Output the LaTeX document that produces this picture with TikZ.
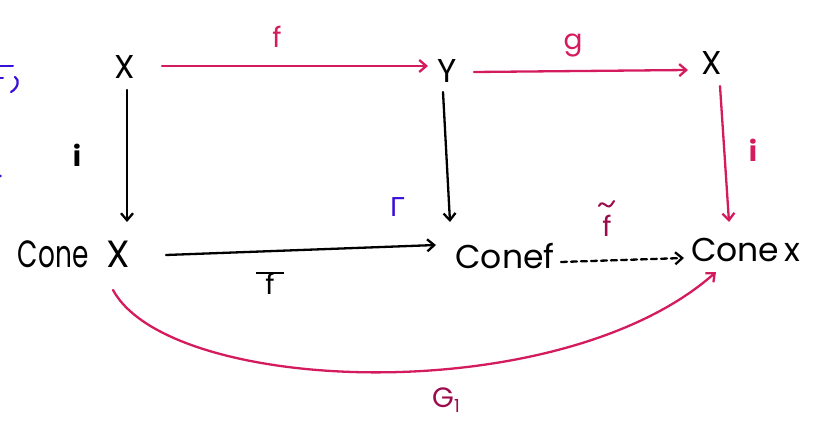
\documentclass[tikz,border=0pt]{standalone}
\usepackage{fontspec}
\usepackage{graphicx}
\setmainfont{Poppins}
\newfontfamily\gk{DejaVu Sans}
\usetikzlibrary{arrows.meta}
\definecolor{crim}{HTML}{D41B5E}
\definecolor{plum}{HTML}{9A0B4C}
\definecolor{blu}{HTML}{3A10D8}
\begin{document}
\begin{tikzpicture}[x=1pt,y=-1pt,
  obj/.style={inner sep=1pt,font=\fontsize{33}{35}\selectfont\mdseries},
  lab/.style={inner sep=1pt,font=\fontsize{28}{30}\selectfont},
  arr/.style={-{Straight Barb[length=7pt,width=12pt]},line width=2.3pt,line cap=round},
]
\useasboundingbox (0,0) rectangle (817,422);
% objects
\node[obj] (X1) at (125,67) {X};
\node[obj] (Y) at (447,71) {Y};
\node[obj] (X2) at (712,63) {X};
\node[obj,anchor=base] (CX) at (74,268) {\scalebox{0.8}[1.15]{Cone}\hspace{18pt}\scalebox{1.15}{X}};
\node[obj] (Cf) at (505,256) {Conef};
\node[obj] (Cx) at (746,250) {Cone\,x};
% anchors
\coordinate (a1) at (162,66); \coordinate (b1) at (428,66);
\coordinate (a2) at (474,72); \coordinate (b2) at (688,70);
\coordinate (a3) at (127,90); \coordinate (b3) at (127,222);
\coordinate (a4) at (443,92); \coordinate (b4) at (450,222);
\coordinate (a5) at (720,86); \coordinate (b5) at (729,222);
\coordinate (a6) at (166,255); \coordinate (b6) at (436,245);
\coordinate (a7) at (561,262); \coordinate (b7) at (684,258);
\coordinate (a8) at (113,290); \coordinate (b8) at (716,272);
% arrows
\draw[arr,crim] (a1) -- (b1);
\draw[arr,crim] (a2) -- (b2);
\draw[arr,black] (a3) -- (b3);
\draw[arr,black] (a4) -- (b4);
\draw[arr,crim] (a5) -- (b5);
\draw[arr,black] (a6) -- (b6);
\draw[arr,black,dash pattern=on 6pt off 4pt] (a7) -- (b7);
\draw[arr,crim] (a8) .. controls (170,395) and (560,410) .. (b8);
% labels
\node[lab,crim] (lf) at (277,37) {f};
\node[lab,crim] (lg) at (573,45) {g};
\node[lab,black,font=\fontsize{28}{30}\selectfont\bfseries] (li) at (77,155) {i};
\node[lab,crim,font=\fontsize{28}{30}\selectfont\bfseries] (li2) at (753,150) {i};
\node[lab,black] (lfb) at (270,283) {\shortstack{\rule{28pt}{2.2pt}\\[-4pt]f}};
\node[lab,blu,font=\gk\fontsize{26}{28}\selectfont] (lG) at (397,207) {Γ};
\node[lab,plum] (lft) at (607,226) {f};
\draw[plum,line width=2pt,line cap=round] ([shift={(-8,-20)}]lft.center) .. controls +(2,-5) and +(-3,-2) .. +(8,0) .. controls +(3,2) and +(-2,3) .. +(15,-5);
\node[lab,plum] (lG1) at (446,400) {G\raisebox{-5pt}{\fontsize{18}{18}\selectfont 1}};
% cut-off blue marks at left edge
\draw[blu,line width=2pt,line cap=round] (0,66) -- (13,66);
\draw[blu,line width=2pt,line cap=round] (0,78) -- (3,78);
\draw[blu,line width=2.2pt,line cap=round] (15,77) .. controls (20,80) and (18,88) .. (11,92);
\fill[blu] (0.5,176) circle (1.3);
\end{tikzpicture}
\end{document}
